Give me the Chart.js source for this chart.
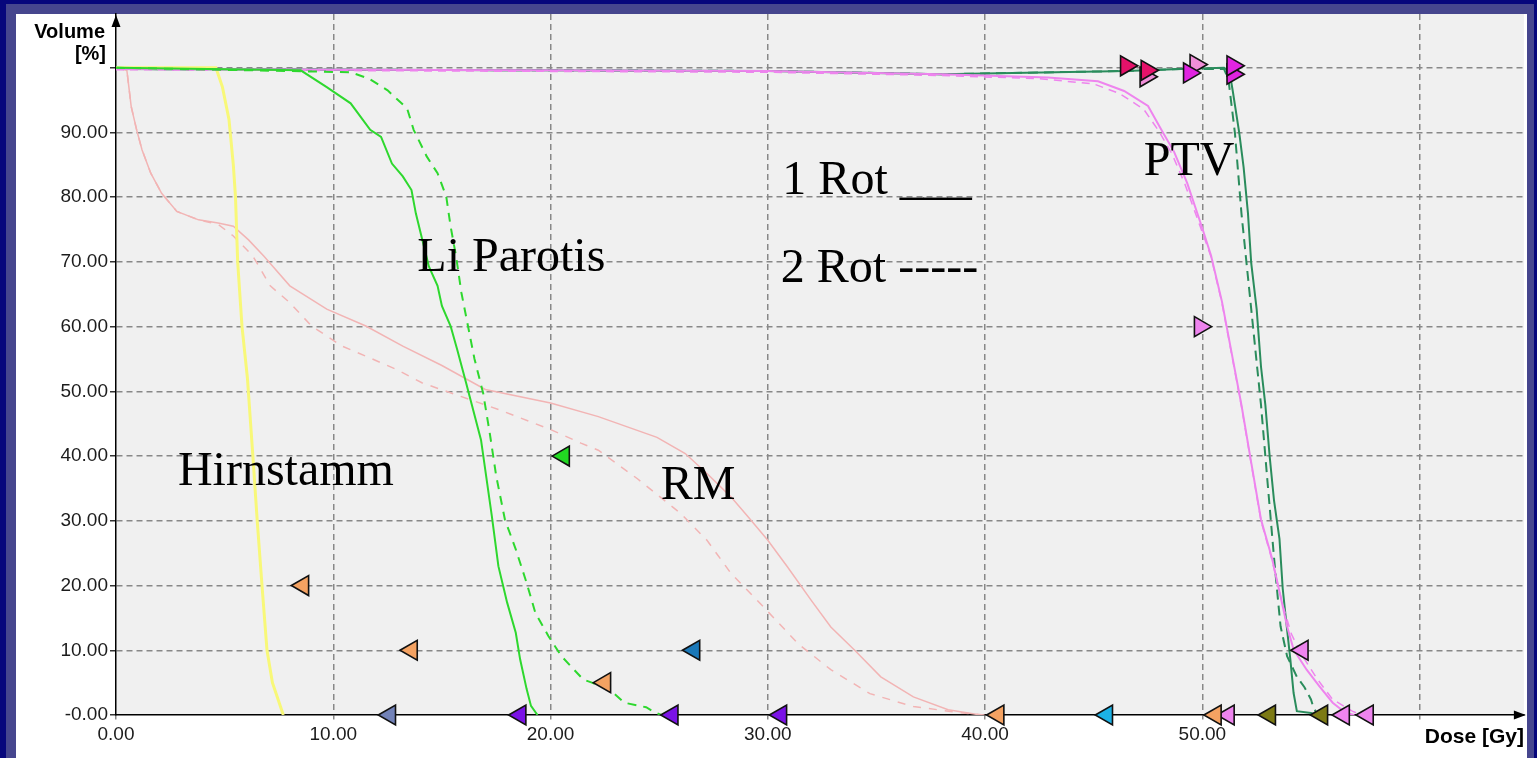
<!DOCTYPE html>
<html>
<head>
<meta charset="utf-8">
<title>DVH 1 Rot / 2 Rot</title>
<script src="https://cdn.jsdelivr.net/npm/chart.js@4.4.1/dist/chart.umd.min.js"></script>
<style>
  html, body { margin: 0; padding: 0; background: #06067c; overflow: hidden; }
  #frame { position: absolute; left: 6px; top: 4px; width: 1528px; height: 754px; background: #46468e; }
  #panel { position: absolute; left: 16px; top: 14px; width: 1511px; height: 744px; background: #ffffff; }
  #dvh { position: absolute; left: 0; top: 0; width: 1537px; height: 758px; }
</style>
</head>
<body>
<div id="frame"></div>
<div id="panel"></div>
<canvas id="dvh" width="1537" height="758"></canvas>
<script>
// Dose in Gy, volume in %
// RM (Rückenmark)
const rm1Dose = [0, 0.5, 0.7, 0.95, 1.2, 1.6, 2.1, 2.8, 3.8, 4.7, 5.4, 6.1, 6.8, 8.0, 9.7, 11.5, 13.2, 15.0, 17.0, 20.0, 22.2, 24.9, 26.2, 27.2, 28.3, 29.1, 30.0, 30.9, 32.0, 32.9, 34.0, 35.2, 36.7, 38.3, 39.8];
const rm1Vol  = [100, 99.6, 94, 90.4, 87.3, 83.7, 80.6, 77.8, 76.5, 76, 75.5, 73.4, 70.9, 66.3, 62.7, 60.1, 57, 54, 50.3, 48.2, 46.1, 42.9, 40.4, 37.3, 33.7, 30.6, 27, 22.9, 17.7, 13.6, 10, 5.9, 2.8, 0.8, 0];
const rm2Dose = [0, 0.5, 0.7, 0.95, 1.2, 1.6, 2.1, 2.8, 3.8, 4.7, 5.4, 6.3, 7.1, 8.0, 9.0, 10.4, 11.8, 12.9, 14.1, 17.6, 20.0, 21.4, 22.2, 24.0, 26.0, 27.2, 28.3, 29.8, 31.4, 32.9, 34.7, 36.7, 39.0, 40.0];
const rm2Vol  = [100, 99.6, 94, 90.4, 87.3, 83.7, 80.6, 77.8, 76.5, 75.8, 74, 70.9, 66.3, 63.7, 60.1, 57, 55, 53.4, 51.3, 47.2, 44.1, 42, 40.9, 36.5, 31.1, 27, 21.9, 16.7, 11, 7, 3.3, 1.3, 0.3, 0];

// Hirnstamm
const hsDose = [0, 4.6, 4.9, 5.2, 5.4, 5.5, 5.6, 5.8, 6.05, 6.3, 6.5, 6.72, 6.95, 7.2, 7.5, 7.7];
const hsVol  = [100, 100, 97, 92, 85, 80, 70, 60, 52, 40, 30, 20, 10, 5, 2, 0];

// Li Parotis
const par1Dose = [0, 8.5, 9.7, 10.8, 11.7, 12.2, 12.7, 13.2, 13.6, 13.8, 14.1, 14.4, 14.8, 15.0, 15.4, 15.7, 16.1, 16.8, 17.3, 17.6, 18.0, 18.4, 18.6, 18.9, 19.1, 19.4];
const par1Vol  = [100, 99.6, 97, 94.5, 90.4, 89.3, 85.2, 83.2, 81.1, 77.5, 73.4, 69.3, 66.3, 63.2, 60.1, 56.5, 51.5, 42.5, 30.7, 23, 17.4, 12.7, 8.6, 4, 1.4, 0];
const par2Dose = [0, 10.8, 11.65, 12.5, 13.4, 13.7, 14.3, 14.8, 15.2, 15.4, 15.65, 15.9, 16.2, 16.5, 16.9, 17.2, 17.5, 17.9, 18.4, 18.9, 19.3, 19.9, 20.5, 21.5, 21.9, 22.7, 23.4, 24.4, 24.8, 25.1];
const par2Vol  = [100, 99.3, 98.3, 96.5, 93.7, 90.4, 86.3, 83.7, 80.1, 75.5, 70.9, 65.2, 60.1, 55, 49.7, 43.6, 36.9, 30.2, 25.6, 20.4, 15.8, 12.2, 9.1, 5.5, 5, 4, 1.9, 1.2, 0.4, 0];

// PTV (two structures)
const ptvA1Dose = [0, 30, 38, 42.9, 45.2, 46.4, 47.5, 48.1, 48.7, 49.3, 49.95, 50.4, 50.9, 51.3, 51.8, 52.25, 52.7, 53.2, 53.6, 53.9, 54.2, 54.8, 55.4, 56.0, 56.6, 57.0];
const ptvA1Vol  = [99.8, 99.5, 99, 98.5, 97.9, 96.4, 94.1, 90.5, 87, 82.2, 75.7, 71, 63.9, 56.8, 47.9, 39, 30.2, 24.3, 18.3, 13.7, 10.1, 7, 4.4, 1.9, 0.3, 0];
const ptvA2Dose = [0, 30, 38, 42.5, 45.0, 46.2, 47.3, 48.0, 48.6, 49.2, 49.9, 50.4, 50.9, 51.3, 51.8, 52.25, 52.7, 53.2, 53.7, 54.1, 54.5, 55.3, 56.0, 56.9, 57.3];
const ptvA2Vol  = [99.7, 99.3, 98.8, 98.3, 97.5, 96, 93.6, 90.2, 86.7, 82, 75.5, 70.8, 63.7, 56.6, 47.7, 38.8, 30, 24, 17, 12.5, 9.7, 5.5, 2.4, 0.6, 0];
const ptvB1Dose = [0, 30, 38, 46.5, 49, 51.0, 51.25, 51.4, 51.7, 51.9, 52.1, 52.25, 52.5, 52.7, 52.9, 53.1, 53.3, 53.55, 53.7, 53.8, 54.05, 54.2, 54.35, 55.0, 55.3];
const ptvB1Vol  = [99.8, 99.5, 99.0, 99.5, 99.8, 100, 99.4, 96.4, 89.9, 84.6, 77.5, 69.8, 62.7, 53.8, 47.9, 39.9, 33.1, 27.2, 19.5, 16.3, 8.6, 3.4, 0.6, 0.3, 0];
const ptvB2Dose = [0, 30, 38, 46.5, 49, 51.0, 51.2, 51.5, 51.8, 52.25, 52.7, 53.0, 53.3, 53.45, 53.6, 53.9, 54.35, 54.7, 55.0, 55.1, 55.3];
const ptvB2Vol  = [99.8, 99.5, 99.0, 99.5, 99.8, 99.8, 98.2, 89.9, 77.5, 62.7, 47.9, 36, 24.3, 18.9, 13.7, 9.1, 5.9, 4.3, 2.4, 1.3, 0];

// dose markers
const leftDose = [8.6, 13.6, 12.6, 18.6, 20.6, 22.5, 25.6, 26.6, 30.6, 40.6, 45.6, 51.2, 50.6, 53.1, 55.5, 56.5, 57.6, 54.6];
const leftVol  = [20, 10, 0, 0, 40, 5, 0, 10, 0, 0, 0, 0, 0, 0, 0, 0, 0, 10];
const rightDose = [49.9, 46.5, 47.4, 47.45, 49.7, 49.4, 51.4, 51.4];
const rightVol  = [60, 100.3, 98.6, 99.6, 100.5, 99.2, 99.0, 100.3];

const leftColors = ['#f4a262', '#f4a262', '#7282b8', '#7a12e6', '#22d822', '#f4a262', '#7a12e6', '#1a78b8', '#7a12e6',
  '#f4a262', '#1cb2e6', '#ee84ee', '#f4a262', '#7c7a14', '#7c7a14', '#ee84ee', '#ee84ee', '#ee84ee'];
const rightColors = ['#ee84ee', '#e4126a', '#f08ed8', '#e4126a', '#f08ed8', '#e024e0', '#e024e0', '#e024e0'];

// labels written on the plot
const noteText = ['Hirnstamm', 'Li Parotis', 'RM', '1 Rot ___', '2 Rot -----', 'PTV'];
const noteDose = [2.85, 13.87, 25.07, 30.67, 30.6, 47.3];
const noteVol  = [35.6, 68.6, 33.3, 80.5, 66.9, 83.4];

const pts = (d, v) => d.map((x, i) => ({ x, y: v[i] }));

function curve(d, v, color, width, dash) {
  return {
    data: pts(d, v),
    showLine: true,
    borderColor: color,
    borderWidth: width,
    borderDash: dash || [],
    pointRadius: 0,
    tension: 0,
  };
}

function markers(d, v, colors, rot) {
  return {
    data: pts(d, v),
    pointStyle: 'triangle',
    rotation: rot,
    pointRadius: 11.5,
    pointHoverRadius: 11.5,
    pointBackgroundColor: colors,
    pointBorderColor: '#111',
    pointBorderWidth: 1.6,
    clip: false,
  };
}

const decor = {
  id: 'decor',
  beforeDraw(chart) {
    const { ctx, chartArea: a } = chart;
    ctx.save();
    ctx.fillStyle = '#f0f0f0';
    ctx.fillRect(a.left, a.top, a.right - a.left, a.bottom - a.top);
    ctx.restore();
  },
  afterDraw(chart) {
    const { ctx, chartArea: a } = chart;
    const xs = chart.scales.x, ys = chart.scales.y;
    ctx.save();
    ctx.fillStyle = '#000';
    // axis arrows
    ctx.beginPath();
    ctx.moveTo(a.left, a.top + 1);
    ctx.lineTo(a.left - 4.5, a.top + 13);
    ctx.lineTo(a.left + 4.5, a.top + 13);
    ctx.closePath();
    ctx.fill();
    ctx.beginPath();
    ctx.moveTo(a.right + 2, a.bottom);
    ctx.lineTo(a.right - 10, a.bottom - 4.5);
    ctx.lineTo(a.right - 10, a.bottom + 4.5);
    ctx.closePath();
    ctx.fill();
    // axis titles
    ctx.font = 'bold 20px "Liberation Sans", Arial, sans-serif';
    ctx.textAlign = 'right';
    ctx.textBaseline = 'alphabetic';
    ctx.fillText('Volume', a.left - 11, 38);
    ctx.fillText('[%]', a.left - 10, 60);
    ctx.font = 'bold 21px "Liberation Sans", Arial, sans-serif';
    ctx.fillText('Dose [Gy]', a.right, 743);
    // notes
    ctx.font = '48px "Liberation Serif", "Times New Roman", serif';
    ctx.textAlign = 'left';
    noteText.forEach((t, i) => {
      ctx.fillText(t, xs.getPixelForValue(noteDose[i]), ys.getPixelForValue(noteVol[i]));
    });
    ctx.restore();
  }
};

const tickFont = { family: '"Liberation Sans", Arial, sans-serif', size: 19 };

new Chart(document.getElementById('dvh'), {
  type: 'scatter',
  data: {
    datasets: [
      markers(leftDose, leftVol, leftColors, 270),
      markers(rightDose, rightVol, rightColors, 90),
      curve(par1Dose, par1Vol, '#2ed82e', 2),
      curve(par2Dose, par2Vol, '#2ed82e', 2, [9, 7]),
      curve(ptvA1Dose, ptvA1Vol, '#ee84ee', 2),
      curve(ptvA2Dose, ptvA2Vol, '#ee84ee', 1.5, [8, 6]),
      curve(ptvB1Dose, ptvB1Vol, '#2a8c5c', 2),
      curve(ptvB2Dose, ptvB2Vol, '#2a8c5c', 2, [10, 6]),
      curve(hsDose, hsVol, '#f8f878', 3),
      curve(rm1Dose, rm1Vol, '#f2b4b4', 1.5),
      curve(rm2Dose, rm2Vol, '#f2b4b4', 1.5, [8, 8]),
    ]
  },
  options: {
    responsive: false,
    animation: false,
    events: [],
    layout: { padding: { left: 0, top: 14, right: 10, bottom: 0 } },
    plugins: {
      legend: { display: false },
      tooltip: { enabled: false },
    },
    scales: {
      x: {
        type: 'linear',
        min: 0,
        max: 64.8,
        afterFit: s => { s.height = 43; },
        border: { display: true, color: '#000', width: 1.5, dash: [6, 4] },
        grid: {
          color: c => c.tick.value === 0 ? 'transparent' : '#888',
          lineWidth: 1.5,
          tickLength: 7,
          tickColor: '#888',
          tickBorderDash: [4, 3],
        },
        ticks: {
          stepSize: 10,
          includeBounds: false,
          maxRotation: 0,
          padding: 1,
          color: '#1c1c1c',
          font: tickFont,
          callback: v => v > 50 ? '' : v.toFixed(2),
        },
      },
      y: {
        type: 'linear',
        min: 0,
        max: 108.3,
        afterFit: s => { s.width = 116; },
        border: { display: true, color: '#000', width: 1.5, dash: [6, 4] },
        grid: {
          color: c => c.tick.value === 0 ? 'transparent' : '#888',
          lineWidth: 1.5,
          tickLength: 6,
          tickColor: '#333',
          tickBorderDash: [],
        },
        ticks: {
          stepSize: 10,
          includeBounds: false,
          padding: 2,
          color: '#1c1c1c',
          font: tickFont,
          callback: v => v === 0 ? '-0.00' : (v >= 100 ? '' : v.toFixed(2)),
        },
      },
    },
  },
  plugins: [decor],
});
</script>
</body>
</html>
